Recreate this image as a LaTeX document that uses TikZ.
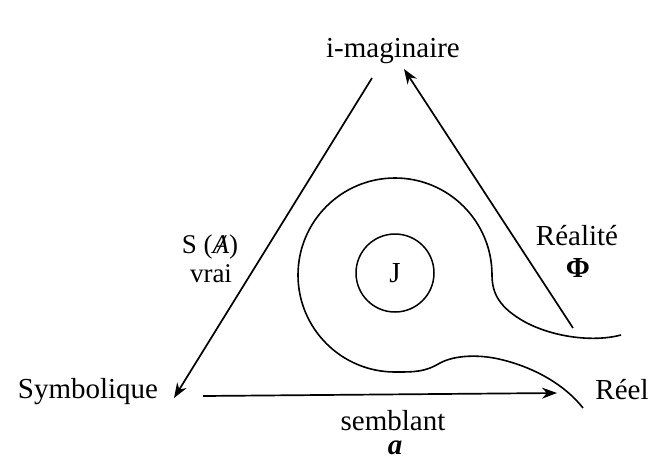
\documentclass[tikz,border=0pt]{standalone}
\usepackage{fontspec}
\setmainfont{Liberation Serif}
\usetikzlibrary{arrows.meta}
\begin{document}
\begin{tikzpicture}[x=1pt,y=-1pt,
  lbl/.style={inner sep=0pt,anchor=base,font=\fontsize{29}{33}\selectfont},
  slbl/.style={inner sep=0pt,anchor=base,font=\fontsize{27}{31}\selectfont},
  edge/.style={line width=1.7pt,-{Stealth[length=15pt,width=11pt]}},
  curve/.style={line width=1.6pt}]
\useasboundingbox (0,0) rectangle (650,461);
% labels
\node[lbl] (imag) at (393,57) {i-maginaire};
\node[lbl] (sym) at (88,398) {Symbolique};
\node[lbl] (reel) at (622,399) {Réel};
\node[lbl] (sembl) at (393,430) {semblant};
\node[lbl] (obja) at (395,454) {\textbf{\textit{a}}};
\node[lbl] (real) at (577,245) {Réalité};
\node[lbl] (phi) at (578,277) {\textbf{Φ}};
\node[slbl] (sa) at (210,253) {S (\makebox[0pt][l]{\hspace{0.18em}\textit{/}}\textit{A})};
\node[slbl] (vrai) at (211,282) {vrai};
% triangle
\coordinate (lt) at (372,78);
\coordinate (lb) at (174,398);
\coordinate (rb) at (573,328);
\coordinate (rt) at (404,69);
\coordinate (bl) at (203,396);
\coordinate (br) at (557,393);
\draw[edge] (lt) -- (lb);
\draw[edge] (rb) -- (rt);
\draw[edge] (bl) -- (br);
% J circle
\node[draw,circle,minimum size=78pt,inner sep=0pt,line width=1.5pt,
      font=\fontsize{29}{33}\selectfont] (J) at (395,273) {J};
% spiral curve
\coordinate (cs) at (621,335);
\coordinate (ce) at (583,408);
\draw[curve] (cs) .. controls (595,342) and (555,338) .. (525,322)
  .. controls (500,308) and (492,294) .. (492,275)
  arc[start angle=0,end angle=-270,radius=97]
  .. controls (415,372) and (425,372) .. (440,363)
  .. controls (455,355) and (480,354) .. (503,360)
  .. controls (535,368) and (565,385) .. (ce);
\end{tikzpicture}
\end{document}
